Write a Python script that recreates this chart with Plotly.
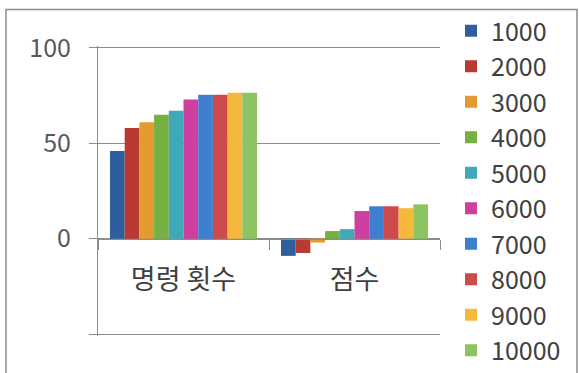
import plotly.graph_objects as go

# categories and series
categories = ["명령 횟수", "점수"]
series_names = ["1000", "2000", "3000", "4000", "5000",
                "6000", "7000", "8000", "9000", "10000"]
command_counts = [46, 58, 61, 65, 67, 73, 75.5, 75.5, 76.5, 76.5]
scores = [-9, -7.5, -2, 4, 5, 14.5, 17, 17, 16, 18]
colors = ["#2F5E9E", "#B83A33", "#E39A2F", "#75B040", "#3FA9BA",
          "#CF3FA0", "#3F7FCF", "#CF4A4A", "#F5B83A", "#8DC462"]
y_ticks = [-50, 0, 50, 100]
y_tick_labels = ["", "0", "50", "100"]

W, H = 579, 373
ML, MR, MT, MB = 98, 139, 42, 37
PW, PH = W - ML - MR, H - MT - MB

def px_x(x):
    return (x - ML) / PW

def px_y(y):
    return (H - MB - y) / PH

fig = go.Figure()
for i, name in enumerate(series_names):
    fig.add_trace(go.Bar(
        x=categories,
        y=[command_counts[i], scores[i]],
        name=name,
        marker=dict(color=colors[i], line=dict(width=0)),
    ))

grey = "#8C8C8C"
font_family = "Noto Sans CJK KR"

# pad the value range a little so the outer grid lines are kept
y_range = [-51, 101]
zero_pos = (0 - y_range[0]) / (y_range[1] - y_range[0])

fig.update_layout(
    width=W, height=H,
    margin=dict(l=ML, r=MR, t=MT, b=MB),
    paper_bgcolor="white",
    plot_bgcolor="white",
    barmode="group",
    bargap=0.14,
    bargroupgap=0,
    font=dict(family=font_family, color="#404040"),
    showlegend=True,
    legend=dict(
        x=px_x(451), y=px_y(7), xanchor="left", yanchor="top",
        font=dict(size=25, color="#404040", family=font_family),
        bgcolor="rgba(0,0,0,0)",
        traceorder="normal",
        maxheight=400,
    ),
    xaxis=dict(
        type="category",
        anchor="free",
        position=zero_pos,
        showline=True, linecolor=grey, linewidth=1,
        ticks="outside", tickson="boundaries", ticklen=10,
        tickcolor=grey,
        showgrid=False,
        tickfont=dict(size=27, color="#404040", family=font_family),
        ticklabelstandoff=17,
        automargin=False,
    ),
    yaxis=dict(
        range=y_range,
        tickvals=y_ticks,
        ticktext=y_tick_labels,
        showgrid=True, gridcolor=grey, gridwidth=1,
        zeroline=False,
        showline=True, linecolor=grey, linewidth=1,
        ticks="outside", ticklen=8, tickcolor=grey,
        tickfont=dict(size=25, color="#595959", family=font_family),
        ticklabelstandoff=13,
        automargin=False,
    ),
    shapes=[dict(
        type="rect", xref="paper", yref="paper",
        x0=px_x(6), x1=px_x(577), y0=px_y(385), y1=px_y(5),
        line=dict(color=grey, width=1.5), fillcolor="rgba(0,0,0,0)",
        layer="below",
    )],
)

fig.write_html("out.html")
